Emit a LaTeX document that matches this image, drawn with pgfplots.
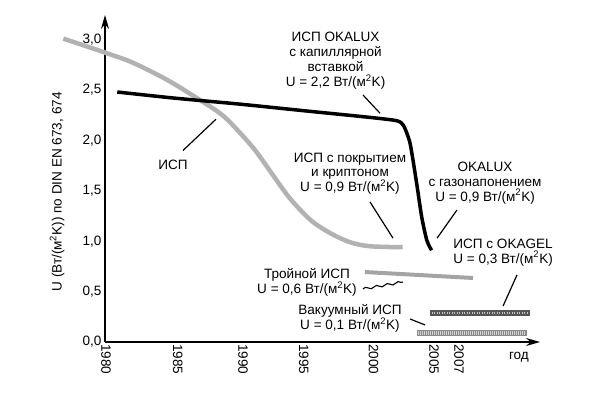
\documentclass[border=0pt]{standalone}
\usepackage{fontspec}
\setmainfont{Liberation Sans}
\usepackage{pgfplots}
\pgfplotsset{compat=1.18}
\usetikzlibrary{arrows.meta,decorations.pathmorphing}
\definecolor{lgray}{HTML}{B2B2B2}
\definecolor{mgray}{HTML}{A4A4A4}
\definecolor{dgray}{HTML}{555555}
\definecolor{vgray}{HTML}{8A8A8A}
\newcommand{\fs}{\fontsize{13.6}{15}\selectfont}
\begin{document}
\begin{tikzpicture}
\useasboundingbox (-105bp,-54bp) rectangle (491bp,342bp);
\begin{axis}[
  at={(0,0)}, anchor=south west,
  scale only axis, width=435bp, height=327bp,
  xmin=1979.77, xmax=2012.85, ymin=0, ymax=3.244,
  clip=false,
  axis x line=bottom, axis y line=left,
  axis line style={line width=1.3bp, black},
  x axis line style={-{Stealth[length=14bp,width=8bp]}},
  y axis line style={-{Stealth[length=14bp,width=8bp]}},
  major tick length=0pt,
  xtick={1980.15,1985.6,1990.57,1995.2,2000.5,2005.1,2007.0},
  xticklabels={1980,1985,1990,1995,2000,2005,2007},
  x tick label style={rotate=-90, anchor=west, font=\fs, inner sep=2bp, yshift=-4bp},
  ytick={0,0.5,1,1.5,2,2.5,3},
  y tick label style={font=\fs, /pgf/number format/.cd, use comma, fixed, fixed zerofill, precision=1, assume math mode=true},
  ylabel={U (Вт/(м\textsuperscript{2}K)) по DIN EN 673, 674},
  ylabel style={font=\fs, at={(axis description cs:-0.110,0.459)}, anchor=center},
]
% ISP grey curve
\addplot[lgray, line width=4.5bp, smooth] coordinates {
 (1976.6,3.01) (1979.8,2.87) (1981.9,2.77) (1984.5,2.60) (1987.0,2.40)
 (1988.7,2.25) (1990.0,2.08) (1991.2,1.90) (1992.3,1.70) (1993.8,1.43)
 (1995.4,1.21) (1996.9,1.08) (1998.4,0.99) (1999.9,0.95) (2002.4,0.94)};
% OKALUX capillary (black)
\addplot[black, line width=3.5bp, smooth, tension=0.4] coordinates {
 (1980.7,2.48) (1985,2.42) (1990,2.36) (1995,2.293) (2000,2.227)
 (2001.95,2.195) (2002.46,2.15) (2002.97,1.97) (2003.47,1.574)
 (2003.85,1.243) (2004.24,1.01) (2004.6,0.91)};
% triple ISP
\addplot[mgray, line width=4bp] coordinates {(1999.54,0.694) (2007.76,0.635)};
% OKAGEL bar
\addplot[dgray, line width=6.5bp] coordinates {(2004.49,0.288) (2012.09,0.288)};
\addplot[gray!45, line width=2bp, dash pattern=on 1bp off 1.5bp] coordinates {(2004.6,0.288) (2012.0,0.288)};
% vacuum bar
\addplot[vgray, line width=6.5bp] coordinates {(2003.50,0.089) (2011.86,0.089)};
\addplot[gray!35, line width=4bp, dash pattern=on 1bp off 1bp] coordinates {(2003.6,0.089) (2011.76,0.089)};

% annotations
\node[font=\fs, align=center] at (axis cs:1997.3,2.79) {ИСП OKALUX\\с капиллярной\\вставкой\\U = 2,2 Вт/(м\textsuperscript{2}K)};
\draw[line width=1.2bp] (axis cs:1999.39,2.45) -- (axis cs:2000.68,2.27);
\node[font=\fs] at (axis cs:1984.94,1.76) {ИСП};
\draw[line width=1.2bp] (axis cs:1985.70,1.90) -- (axis cs:1988.21,2.21);
\node[font=\fs, align=center] at (axis cs:1998.40,1.67) {ИСП с покрытием\\и криптоном\\U = 0,9 Вт/(м\textsuperscript{2}K)};
\draw[line width=1.2bp] (axis cs:1999.92,1.39) -- (axis cs:2001.67,1.03);
\node[font=\fs, align=center] at (axis cs:2008.67,1.58) {OKALUX\\с газонапонением\\U = 0,9 Вт/(м\textsuperscript{2}K)};
\draw[line width=1.2bp] (axis cs:2006.54,1.31) -- (axis cs:2005.02,1.03);
\node[font=\fs, align=center] at (axis cs:2010.04,0.89) {ИСП с OKAGEL\\U = 0,3 Вт/(м\textsuperscript{2}K)};
\draw[line width=1.2bp] (axis cs:2011.10,0.665) -- (axis cs:2010.04,0.357);
\node[font=\fs, align=center] at (axis cs:1995.13,0.59) {Тройной ИСП\\U = 0,6 Вт/(м\textsuperscript{2}K)};
\draw[line width=1.1bp, decorate, decoration={zigzag, amplitude=1.2bp, segment length=11bp}] (axis cs:1999.39,0.526) -- (axis cs:2002.43,0.595);
\node[font=\fs, align=center] at (axis cs:1998.40,0.233) {Вакуумный ИСП\\U = 0,1 Вт/(м\textsuperscript{2}K)};
\draw[line width=1.2bp] (axis cs:2002.97,0.228) -- (axis cs:2004.11,0.169);
\node[font=\fs] at (axis cs:2011.25,-0.149) {год};
\end{axis}
\end{tikzpicture}
\end{document}
